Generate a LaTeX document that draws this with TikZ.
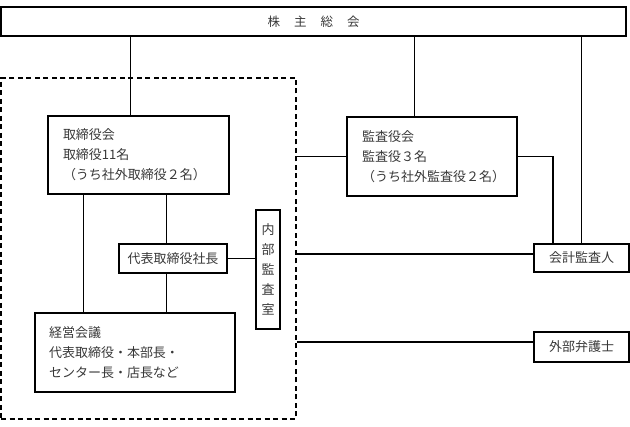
\documentclass[tikz,border=0pt]{standalone}
\usepackage{fontspec}
\setmainfont{Noto Sans CJK JP}
\begin{document}
\begin{tikzpicture}[x=1pt,y=-1pt,
  box/.style={draw, line width=1.1pt, inner sep=0pt, text=black!78,
    font=\fontsize{13}{20}\selectfont},
  txtbox/.style={box, align=left, inner xsep=15pt},
  conn/.style={line width=1.1pt},
  grpbox/.style={draw, dashed, line width=1.3pt, dash pattern=on 5pt off 3.5pt, inner sep=0pt}]
\useasboundingbox (0,0) rectangle (630,427);
% group (dashed)
\node[grpbox, minimum width=295pt, minimum height=341pt] (grp) at (148.5,248.5) {};
% nodes
\node[box, minimum width=625pt, minimum height=29pt, font=\fontsize{12.5}{15}\selectfont] (gsm) at (313.5,21.5)
  {株\hspace{14pt}主\hspace{14pt}総\hspace{14pt}会};
\node[txtbox, text width=151pt, minimum height=78pt] (board) at (138.5,155)
  {取締役会\\取締役11名\\（うち社外取締役２名）};
\node[txtbox, text width=140pt, minimum height=79pt] (audit) at (432,156.5)
  {監査役会\\監査役３名\\（うち社外監査役２名）};
\node[box, minimum width=108pt, minimum height=29pt] (pres) at (173,258.5) {代表取締役社長};
\node[box, align=center, minimum width=24pt, minimum height=119pt] (internal) at (268,269.5)
  {内\\部\\監\\査\\室};
\node[txtbox, inner xsep=14pt, text width=172pt, minimum height=79pt] (mgmt) at (135,352.5)
  {経営会議\\代表取締役・本部長・\\センター長・店長など};
\node[box, minimum width=95pt, minimum height=28pt] (acct) at (581.5,258) {会計監査人};
\node[box, minimum width=95pt, minimum height=30pt] (lawyer) at (581.5,347) {外部弁護士};
% connectors
\draw[conn] (board.north west) ++(83,0) coordinate (b1) -- (b1 |- gsm.south);
\draw[conn] (audit.north west) ++(68,0) coordinate (a1) -- (a1 |- gsm.south);
\draw[conn] (acct.north) -- (acct.north |- gsm.south);
\draw[conn] (audit.east) -| ([xshift=-28.5pt]acct.north);
\draw[conn] (audit.west) -- (audit.west -| grp.east);
\draw[conn] ([yshift=4pt]acct.west) -- ([yshift=4pt]acct.west -| grp.east);
\draw[conn] ([yshift=5pt]lawyer.west) -- ([yshift=5pt]lawyer.west -| grp.east);
\draw[conn] (board.south west) ++(36,0) coordinate (b2) -- (b2 |- mgmt.north);
\draw[conn] (board.south west) ++(119,0) coordinate (b3) -- (b3 |- pres.north);
\draw[conn] (pres.south -| b3) -- (b3 |- mgmt.north);
\draw[conn] (pres.east) -- (pres.east -| internal.west);
\end{tikzpicture}
\end{document}
